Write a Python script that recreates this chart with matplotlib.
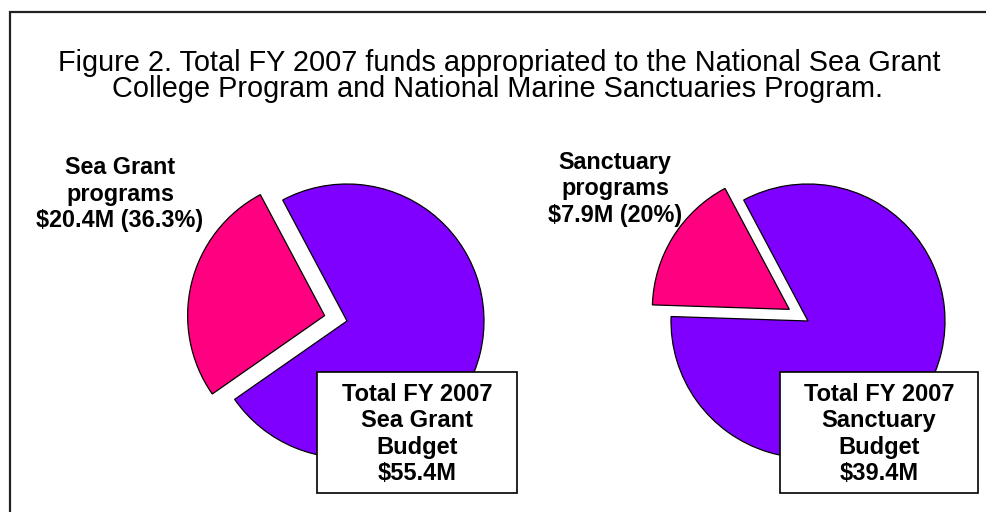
import matplotlib.pyplot as plt
from matplotlib.patches import Rectangle

plt.rcParams['font.family'] = ['Liberation Sans', 'DejaVu Sans']

# pie values ($M): programs slice vs. total budget slice
sea_grant_vals = [20.4, 55.4]
sanctuary_vals = [7.9, 39.4]
colors = ['#FF0080', '#8000FF']

title_lines = ['Figure 2. Total FY 2007 funds appropriated to the National Sea Grant',
               'College Program and National Marine Sanctuaries Program.']
sea_grant_label = 'Sea Grant\nprograms\n$20.4M (36.3%)'
sanctuary_label = 'Sanctuary\nprograms\n$7.9M (20%)'
sea_grant_box = 'Total FY 2007\nSea Grant\nBudget\n$55.4M'
sanctuary_box = 'Total FY 2007\nSanctuary\nBudget\n$39.4M'

W, H = 987, 512
fig = plt.figure(figsize=(W / 100, H / 100), dpi=100)
ax = fig.add_axes([0, 0, 1, 1])

def py(y):
    # pixel row (from top) -> data y
    return H - y

wedge_style = dict(edgecolor='black', linewidth=0.9)
ax.pie(sea_grant_vals, colors=colors, startangle=118, counterclock=True,
       explode=[23, 0], radius=137, center=(347, py(321)), wedgeprops=wedge_style)
ax.pie(sanctuary_vals, colors=colors, startangle=118, counterclock=True,
       explode=[22, 0], radius=137, center=(808, py(321)), wedgeprops=wedge_style)

ax.set_xlim(0, W)
ax.set_ylim(0, H)
ax.set_aspect('equal')
ax.axis('off')

# outer frame (runs off the right and bottom edges)
ax.add_patch(Rectangle((10, -20), 1000, py(12) + 20, fill=False,
                       edgecolor='#222222', linewidth=1.6))

ax.text(499, py(63), title_lines[0], ha='center', va='center', fontsize=20.8)
ax.text(497, py(89), title_lines[1], ha='center', va='center', fontsize=20.8)

ax.text(120, py(194), sea_grant_label, ha='center', va='center',
        fontsize=16.8, fontweight='bold', linespacing=1.18)
ax.text(615, py(189), sanctuary_label, ha='center', va='center',
        fontsize=16.8, fontweight='bold', linespacing=1.18)

for x0, x1, txt in [(317, 517, sea_grant_box), (780, 978, sanctuary_box)]:
    ax.add_patch(Rectangle((x0, py(493)), x1 - x0, 493 - 372, facecolor='white',
                           edgecolor='black', linewidth=1.2, zorder=5))
    ax.text((x0 + x1) / 2, py(434), txt, ha='center', va='center', zorder=6,
            fontsize=17, fontweight='bold', linespacing=1.18)

fig.savefig('out.png', dpi=100)
